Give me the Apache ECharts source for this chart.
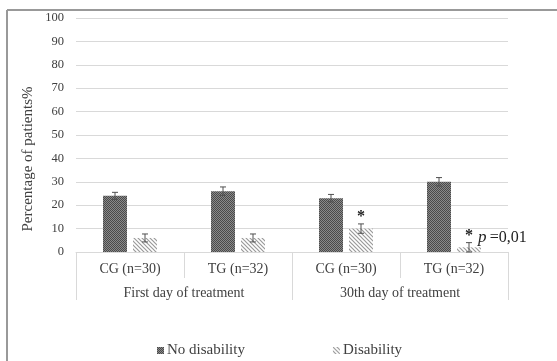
<!DOCTYPE html>
<html>
<head>
<meta charset="utf-8">
<script src="https://cdn.jsdelivr.net/npm/echarts@6/dist/echarts.min.js"></script>
<style>html,body{margin:0;padding:0;background:#fff;}#c{width:557px;height:361px;}</style>
</head>
<body>
<div id="c"></div>
<script>
var categories = ['CG (n=30)', 'TG (n=32)', 'CG (n=30)', 'TG (n=32)'];
var groups = ['First day of treatment', '30th day of treatment'];
var noDisability = [24, 26, 23, 30];
var noDisabilityErr = [1.5, 1.8, 1.6, 1.8];
var disability = [6, 6, 10, 2];
var disabilityErr = [1.7, 1.7, 2, 2];
var disabilityStars = ['', '', '*', '*'];
var disabilityNotes = ['', '', '', 'p'];
var yTicks = {min: 0, max: 100, interval: 10};

function makeDots() {
  var c = document.createElement('canvas');
  c.width = 2; c.height = 2;
  var g = c.getContext('2d');
  g.fillStyle = '#8a8a8a'; g.fillRect(0, 0, 2, 2);
  g.fillStyle = '#4a4a4a'; g.fillRect(0, 0, 1, 1); g.fillRect(1, 1, 1, 1);
  return c;
}
function makeHatch() {
  var c = document.createElement('canvas');
  c.width = 4; c.height = 4;
  var g = c.getContext('2d');
  g.fillStyle = '#ffffff'; g.fillRect(0, 0, 4, 4);
  g.strokeStyle = '#9a9a9a'; g.lineWidth = 1.2;
  g.beginPath();
  g.moveTo(-1, -1); g.lineTo(5, 5);
  g.moveTo(-1, 3); g.lineTo(1, 5);
  g.moveTo(3, -1); g.lineTo(5, 1);
  g.stroke();
  return c;
}
var dotPattern = {image: makeDots(), repeat: 'repeat'};
var hatchPattern = {image: makeHatch(), repeat: 'repeat'};

var errData = [];
noDisability.forEach(function (v, i) { errData.push([i, v, noDisabilityErr[i], -1, '', '']); });
disability.forEach(function (v, i) { errData.push([i, v, disabilityErr[i], 1, disabilityStars[i], disabilityNotes[i]]); });

var textColor = '#404040';
var font = '"Liberation Serif", "Times New Roman", serif';

var chart = echarts.init(document.getElementById('c'));
chart.setOption({
  animation: false,
  textStyle: {fontFamily: font},
  grid: {left: 76, right: 49, top: 18, bottom: 109},
  legend: {
    left: 152, top: 338, itemWidth: 7, itemHeight: 7, itemGap: 88,
    icon: 'rect',
    textStyle: {fontFamily: font, fontSize: 15, color: textColor, padding: [0, 0, 0, -2]},
    data: ['No disability', 'Disability']
  },
  xAxis: [{
    type: 'category', data: categories,
    axisLine: {lineStyle: {color: '#d9d9d9'}},
    axisTick: {show: true, length: 26, lineStyle: {color: '#d9d9d9'}},
    axisLabel: {fontFamily: font, fontSize: 14, color: textColor, margin: 10}
  }, {
    type: 'category', data: groups, position: 'bottom',
    axisLine: {show: false},
    axisTick: {show: true, length: 48, lineStyle: {color: '#d9d9d9'}},
    axisLabel: {fontFamily: font, fontSize: 14, color: textColor, margin: 34}
  }],
  yAxis: {
    type: 'value', min: yTicks.min, max: yTicks.max, interval: yTicks.interval,
    axisLine: {show: false}, axisTick: {show: false},
    splitLine: {lineStyle: {color: '#d9d9d9'}},
    axisLabel: {fontFamily: font, fontSize: 12.5, color: textColor, margin: 12}
  },
  graphic: [
    {type: 'line', shape: {x1: 7, y1: 10, x2: 557, y2: 10}, style: {stroke: '#999', lineWidth: 2}},
    {type: 'line', shape: {x1: 7, y1: 10, x2: 7, y2: 361}, style: {stroke: '#999', lineWidth: 2}},
    {type: 'text', x: 28, y: 159, rotation: Math.PI / 2,
     style: {text: 'Percentage of patients%', font: '15px ' + font, fill: textColor, align: 'center', verticalAlign: 'middle'}}
  ],
  series: [{
    name: 'No disability', type: 'bar', data: noDisability,
    barWidth: 24, barGap: '25%',
    itemStyle: {color: dotPattern}
  }, {
    name: 'Disability', type: 'bar', data: disability,
    barWidth: 24,
    itemStyle: {color: hatchPattern}
  }, {
    type: 'custom', name: 'err', xAxisIndex: 0, z: 10,
    data: errData,
    renderItem: function (params, api) {
      var i = api.value(0), v = api.value(1), e = api.value(2), side = api.value(3);
      var hi = api.coord([i, v + e]);
      var lo = api.coord([i, v - e]);
      var x = hi[0] + side * 15;
      var col = '#505050';
      var children = [
        {type: 'line', shape: {x1: x, y1: hi[1], x2: x, y2: lo[1]}, style: {stroke: col, lineWidth: 1}},
        {type: 'line', shape: {x1: x - 3, y1: hi[1], x2: x + 3, y2: hi[1]}, style: {stroke: col, lineWidth: 1}},
        {type: 'line', shape: {x1: x - 3, y1: lo[1], x2: x + 3, y2: lo[1]}, style: {stroke: col, lineWidth: 1}}
      ];
      var star = errData[params.dataIndex][4];
      var note = errData[params.dataIndex][5];
      if (star) {
        children.push({type: 'text', x: x, y: hi[1] + 1, style: {text: star, font: 'bold 16px ' + font, fill: '#222', align: 'center', verticalAlign: 'bottom'}});
      }
      if (note) {
        var base = api.coord([i, v]);
        children.push({type: 'text', x: x + 9, y: base[1] - 10, style: {
          text: '{p|p} {t|=0,01}', verticalAlign: 'middle', align: 'left',
          rich: {p: {font: 'italic 17px ' + font, fill: '#222'}, t: {font: '16px ' + font, fill: '#222'}}
        }});
      }
      return {type: 'group', children: children};
    }
  }]
});
</script>
</body>
</html>
